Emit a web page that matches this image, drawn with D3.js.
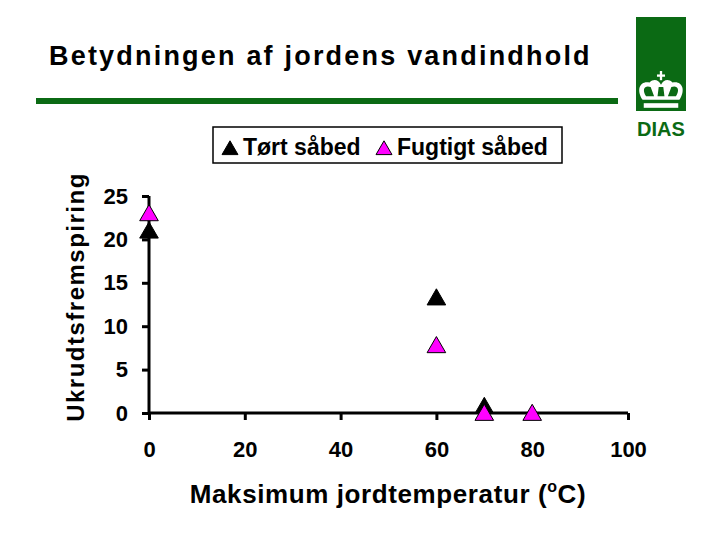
<!DOCTYPE html>
<html>
<head>
<meta charset="utf-8">
<script src="https://cdn.jsdelivr.net/npm/d3@7"></script>
<style>
  body { margin: 0; background: #fff; }
  text { font-family: Arial, "Liberation Sans", sans-serif; font-weight: bold; }
</style>
</head>
<body>
<script>
// data
var temps = [0, 60, 70, 80];
var dry = [21, 13.3, 0.8, null];     // Tørt såbed
var moist = [23, 7.8, 0, 0];          // Fugtigt såbed
var xTicks = [0, 20, 40, 60, 80, 100];
var yTicks = [0, 5, 10, 15, 20, 25];
var seriesNames = ["Tørt såbed", "Fugtigt såbed"];
var seriesColors = ["#000000", "#ff00ff"];

var svg = d3.select("body").append("svg")
    .attr("width", 720).attr("height", 540);

// title + green rule
svg.append("text").attr("x", 49).attr("y", 65)
    .style("font-size", "27px").style("letter-spacing", "2.2px")
    .text("Betydningen af jordens vandindhold");
svg.append("rect").attr("x", 36).attr("y", 98).attr("width", 582).attr("height", 6)
    .attr("fill", "#0b6a14");

// DIAS logo
var logo = svg.append("g");
logo.append("rect").attr("x", 636).attr("y", 17).attr("width", 50).attr("height", 94).attr("fill", "#0b6a14");
var crown = logo.append("g").attr("transform", "translate(661,94) scale(1.15)").attr("fill", "#fff");
crown.append("rect").attr("x", -15).attr("y", 8).attr("width", 30).attr("height", 4);
crown.append("path").attr("d", "M-16,5 C-22,-4 -18,-12 -10,-10 C-6,-14 -2,-12 0,-8 C2,-12 6,-14 10,-10 C18,-12 22,-4 16,5 Z");
crown.append("path").attr("fill", "#0b6a14")
    .attr("d", "M-13,2 C-17,-4 -14,-8 -9,-6 L-6,2 Z M13,2 C17,-4 14,-8 9,-6 L6,2 Z M-3,2 L-2,-6 L2,-6 L3,2 Z");
crown.append("rect").attr("x", -1).attr("y", -20).attr("width", 2).attr("height", 8);
crown.append("rect").attr("x", -3.5).attr("y", -17).attr("width", 7).attr("height", 2);
logo.append("text").attr("x", 661).attr("y", 136).attr("text-anchor", "middle")
    .attr("fill", "#0b6a14").style("font-size", "20px").text("DIAS");

// scales
var x = d3.scaleLinear().domain([0, 100]).range([149, 628]);
var y = d3.scaleLinear().domain([0, 25]).range([413, 196]);

// axes
var yAxis = svg.append("g").attr("transform", "translate(149,0)")
    .call(d3.axisLeft(y).tickValues(yTicks).tickSize(7).tickPadding(14));
var xAxis = svg.append("g").attr("transform", "translate(0,413)")
    .call(d3.axisBottom(x).tickValues(xTicks).tickSize(7).tickPadding(21));
[xAxis, yAxis].forEach(function (a) {
    a.attr("font-size", null).attr("font-family", null);
    a.select(".domain").attr("stroke", "#000").attr("stroke-width", 3);
    a.selectAll(".tick line").attr("stroke", "#000").attr("stroke-width", 3);
    a.selectAll(".tick text").attr("fill", "#000").style("font-size", "22px");
});
// keep the axis lines without the outer end ticks
yAxis.select(".domain").attr("d", "M0,196V413");
xAxis.select(".domain").attr("d", "M149,0H628");

// axis titles
svg.append("text").attr("transform", "translate(84,297) rotate(-90)")
    .attr("text-anchor", "middle").style("font-size", "24px").style("letter-spacing", "1.5px")
    .text("Ukrudtsfremspiring");
var xt = svg.append("text").attr("x", 388).attr("y", 503).attr("text-anchor", "middle")
    .style("font-size", "26px").style("letter-spacing", "0.6px");
xt.append("tspan").text("Maksimum jordtemperatur (");
xt.append("tspan").attr("dy", -11).style("font-size", "16px").text("o");
xt.append("tspan").attr("dy", 11).text("C)");

// markers
var tri = d3.symbol().type(d3.symbolTriangle).size(150);
function points(vals, color) {
    var pts = temps.map(function (t, i) { return { t: t, v: vals[i] }; })
        .filter(function (d) { return d.v != null; });
    svg.append("g").selectAll("path").data(pts).enter().append("path")
        .attr("d", tri)
        .attr("transform", function (d) { return "translate(" + x(d.t) + "," + (y(d.v) + 2) + ")"; })
        .attr("fill", color).attr("stroke", "#000").attr("stroke-width", 1);
}
points(dry, seriesColors[0]);
points(moist, seriesColors[1]);

// legend
var lg = svg.append("g");
lg.append("rect").attr("x", 213).attr("y", 127).attr("width", 349).attr("height", 36)
    .attr("fill", "#fff").attr("stroke", "#000").attr("stroke-width", 1.5);
var legX = [230, 384];
seriesNames.forEach(function (n, i) {
    lg.append("path").attr("d", d3.symbol().type(d3.symbolTriangle).size(110))
        .attr("transform", "translate(" + legX[i] + ",150)")
        .attr("fill", seriesColors[i]).attr("stroke", "#000").attr("stroke-width", 1);
    lg.append("text").attr("x", legX[i] + 13).attr("y", 155)
        .style("font-size", "23px").text(n);
});
</script>
</body>
</html>
